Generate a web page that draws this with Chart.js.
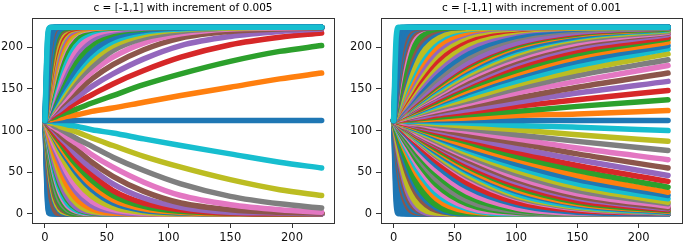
<!DOCTYPE html>
<html>
<head>
<meta charset="utf-8">
<script src="https://cdn.jsdelivr.net/npm/chart.js@4.4.1/dist/chart.umd.min.js"></script>
<style>
  html, body { margin: 0; padding: 0; background: #fff; overflow: hidden; }
  #wrap { position: relative; width: 685px; height: 243px; }
  .box { position: absolute; top: 0; height: 243px; }
  .title { position: absolute; top: 1px; font: 10.5px "DejaVu Sans", sans-serif; color: #000; text-align: center; line-height: 13px; white-space: nowrap; }
</style>
</head>
<body>
<div id="wrap">
  <div class="box" style="left:0;width:345px"><canvas id="left"></canvas></div>
  <div class="box" style="left:345px;width:340px"><canvas id="right"></canvas></div>
  <div class="title" id="titleLeft" style="left:32px;width:302px"></div>
  <div class="title" id="titleRight" style="left:381px;width:301px"></div>
</div>
<script>
const titles = ["c = [-1,1] with increment of 0.005", "c = [-1,1] with increment of 0.001"];
const tickValues = [0, 50, 100, 150, 200];
const palette = ["#1f77b4", "#ff7f0e", "#2ca02c", "#d62728", "#9467bd", "#8c564b", "#e377c2", "#7f7f7f", "#bcbd22", "#17becf"];

// left panel: c = k * 0.005, y read at these x
const xLeft = [0, 1, 2, 3, 5, 8, 12, 18, 26, 38, 55, 80, 110, 150, 190, 224];
const kLeft = [-200, -180, -160, -140, -120, -100, -85, -70, -62, -55, -48, -43, -38, -34, -31, -28, -26, -22, -19, -16, -14, -12,
  -10, -9, -8, -7, -6, -5, -4, -3, -2, -1, 0, 1, 2, 3, 4, 5, 6, 7, 8, 9, 10,
  12, 14, 16, 19, 22, 26, 28, 31, 34, 38, 43, 48, 55, 62, 70, 85, 100, 120, 140, 160, 180, 199];
const yLeft = [
  [112,56,14,1,0,0,0,0,0,0,0,0,0,0,0,0],
  [112,62,21,4,0,0,0,0,0,0,0,0,0,0,0,0],
  [112,67,30,9,1,0,0,0,0,0,0,0,0,0,0,0],
  [112,73,38,16,2,0,0,0,0,0,0,0,0,0,0,0],
  [112,78,48,25,5,1,0,0,0,0,0,0,0,0,0,0],
  [112,84,58,36,12,2,0,0,0,0,0,0,0,0,0,0],
  [112,88,65,46,19,4,0,0,0,0,0,0,0,0,0,0],
  [112,93,74,58,33,13,3,0,0,0,0,0,0,0,0,0],
  [112,95,78,63,39,17,5,1,0,0,0,0,0,0,0,0],
  [112,97,82,68,45,22,8,2,0,0,0,0,0,0,0,0],
  [112,99,86,73,52,29,12,3,0,0,0,0,0,0,0,0],
  [112,100,88,77,57,34,16,5,1,0,0,0,0,0,0,0],
  [112,101,91,81,62,40,21,7,2,0,0,0,0,0,0,0],
  [112,102,93,84,67,46,26,10,3,0,0,0,0,0,0,0],
  [112,103,95,86,71,50,30,13,4,1,0,0,0,0,0,0],
  [112,104,96,89,74,55,35,17,6,1,0,0,0,0,0,0],
  [112,105,98,90,77,58,39,20,7,2,0,0,0,0,0,0],
  [112,106,100,94,82,66,47,27,12,3,1,0,0,0,0,0],
  [112,107,101,96,86,71,54,34,17,6,1,0,0,0,0,0],
  [112,107,103,99,90,77,62,43,25,10,3,0,0,0,0,0],
  [112,108,104,100,92,81,68,49,31,15,5,1,0,0,0,0],
  [112,109,105,102,95,86,73,57,39,21,8,2,0,0,0,0],
  [112,109,106,104,98,90,79,65,48,29,13,4,1,0,0,0],
  [112,109,107,104,99,92,82,69,53,34,17,6,2,0,0,0],
  [112,110,107,105,101,94,86,73,58,40,22,9,3,1,0,0],
  [112,110,108,106,102,96,89,78,64,47,28,13,5,1,0,0],
  [112,110,109,107,104,99,92,83,70,54,36,19,8,2,1,0],
  [112,111,109,108,105,101,95,87,77,62,45,27,13,5,2,1],
  [112,111,110,109,106,103,99,92,84,71,56,38,22,11,5,2],
  [112,111,110,109,108,105,102,97,90,81,68,52,36,21,12,7],
  [112,111,111,110,109,108,105,102,98,91,82,69,56,41,29,22],
  [112,112,111,111,111,110,109,107,105,101,97,90,82,72,62,55],
  [112,112,112,112,112,112,112,112,112,112,112,112,112,112,112,112],
  [112,112,113,113,113,114,115,117,119,123,127,134,142,152,162,169],
  [112,113,113,114,115,116,119,122,126,133,142,155,168,183,195,202],
  [112,113,114,115,116,119,122,127,134,143,156,172,188,203,212,217],
  [112,113,114,115,118,121,125,132,140,153,168,186,202,213,219,222],
  [112,113,115,116,119,123,129,137,147,162,179,197,211,219,222,223],
  [112,114,115,117,120,125,132,141,154,170,188,205,216,222,223,224],
  [112,114,116,118,122,128,135,146,160,177,196,211,219,223,224,224],
  [112,114,117,119,123,130,138,151,166,184,202,215,221,223,224,224],
  [112,115,117,120,125,132,142,155,171,190,207,218,222,224,224,224],
  [112,115,118,120,126,134,145,159,176,195,211,220,223,224,224,224],
  [112,115,119,122,129,138,151,167,185,203,216,222,224,224,224,224],
  [112,116,120,124,132,143,156,175,193,209,219,223,224,224,224,224],
  [112,117,121,125,134,147,162,181,199,214,221,224,224,224,224,224],
  [112,117,123,128,138,153,170,190,207,218,223,224,224,224,224,224],
  [112,118,124,130,142,158,177,197,212,221,223,224,224,224,224,224],
  [112,119,126,134,147,166,185,204,217,222,224,224,224,224,224,224],
  [112,120,128,135,150,169,189,207,218,223,224,224,224,224,224,224],
  [112,121,129,138,153,174,194,211,220,223,224,224,224,224,224,224],
  [112,122,131,140,157,178,198,214,221,224,224,224,224,224,224,224],
  [112,123,133,143,162,184,203,217,222,224,224,224,224,224,224,224],
  [112,124,136,147,167,190,208,219,223,224,224,224,224,224,224,224],
  [112,125,138,151,172,195,212,221,224,224,224,224,224,224,224,224],
  [112,127,142,156,179,202,216,222,224,224,224,224,224,224,224,224],
  [112,129,146,161,185,207,219,223,224,224,224,224,224,224,224,224],
  [112,131,150,166,191,211,221,224,224,224,224,224,224,224,224,224],
  [112,136,159,178,205,220,224,224,224,224,224,224,224,224,224,224],
  [112,140,166,187,210,222,224,224,224,224,224,224,224,224,224,224],
  [112,146,176,199,219,224,224,224,224,224,224,224,224,224,224,224],
  [112,151,186,208,222,224,224,224,224,224,224,224,224,224,224,224],
  [112,157,194,215,223,224,224,224,224,224,224,224,224,224,224,224],
  [112,162,203,220,224,224,224,224,224,224,224,224,224,224,224,224],
  [112,168,209,222,224,224,224,224,224,224,224,224,224,224,224,224]
];

// right panel: c = k * 0.001
const xRight = [0, 1, 2, 4, 7, 12, 20, 35, 60, 100, 150, 224];
const kRight = [-1000, -780, -620, -500, -410, -340, -285, -240, -205, -176, -152, -132, -115, -100, -88, -78, -69, -61, -54, -48, -43, -38, -34, -30, -27,
  -24, -23, -22, -21, -20, -19, -18, -17, -16, -15, -14, -13, -12, -11, -10, -9, -8, -7, -6, -5, -4, -3, -2, -1, 0,
  1, 2, 3, 4, 5, 6, 7, 8, 9, 10, 11, 12, 13, 14, 15, 16, 17, 18, 19, 20, 21, 22, 23, 24,
  27, 30, 34, 38, 43, 48, 54, 61, 69, 78, 88, 100, 115, 132, 152, 176, 205, 240, 285, 340, 410, 500, 620, 780, 999];
const yRight = [
  [112,56,14,0,0,0,0,0,0,0,0,0],
  [112,68,31,3,0,0,0,0,0,0,0,0],
  [112,77,46,10,1,0,0,0,0,0,0,0],
  [112,84,58,21,3,0,0,0,0,0,0,0],
  [112,89,67,32,8,1,0,0,0,0,0,0],
  [112,93,75,46,19,4,0,0,0,0,0,0],
  [112,96,81,54,27,7,1,0,0,0,0,0],
  [112,99,86,62,35,12,2,0,0,0,0,0],
  [112,101,89,68,43,18,4,0,0,0,0,0],
  [112,102,92,74,51,24,6,0,0,0,0,0],
  [112,103,95,79,57,31,10,1,0,0,0,0],
  [112,105,97,83,64,38,15,2,0,0,0,0],
  [112,106,99,87,69,45,21,4,0,0,0,0],
  [112,106,101,90,74,52,27,7,0,0,0,0],
  [112,107,102,92,79,58,33,10,1,0,0,0],
  [112,108,103,95,82,63,39,14,2,0,0,0],
  [112,108,104,97,85,68,45,18,3,0,0,0],
  [112,109,105,98,88,73,51,24,6,0,0,0],
  [112,109,106,100,91,77,57,29,8,1,0,0],
  [112,109,107,101,93,81,62,35,12,2,0,0],
  [112,110,107,102,95,84,67,41,16,3,0,0],
  [112,110,108,103,97,87,71,47,21,5,1,0],
  [112,110,108,104,99,90,75,52,26,7,1,0],
  [112,110,109,105,100,92,79,58,32,11,2,0],
  [112,110,109,106,101,94,83,63,37,14,4,1],
  [112,111,110,107,103,96,86,68,43,19,6,1],
  [112,111,110,107,103,97,87,69,45,20,7,1],
  [112,111,110,107,103,97,88,71,47,22,8,2],
  [112,111,110,107,104,98,89,73,50,24,9,2],
  [112,111,110,108,104,99,90,74,52,27,11,2],
  [112,111,110,108,105,99,91,76,54,29,12,3],
  [112,111,110,108,105,100,92,78,57,32,14,4],
  [112,111,110,108,105,101,93,80,59,35,16,5],
  [112,111,110,108,106,101,94,82,62,38,19,6],
  [112,111,110,109,106,102,95,83,65,41,21,7],
  [112,111,110,109,106,103,96,85,68,44,24,9],
  [112,111,111,109,107,103,98,87,70,48,28,12],
  [112,111,111,109,107,104,99,89,73,52,32,14],
  [112,111,111,110,108,105,100,91,76,56,36,18],
  [112,111,111,110,108,105,101,92,79,60,41,22],
  [112,111,111,110,108,106,102,94,82,65,46,26],
  [112,112,111,110,109,107,103,96,86,69,52,32],
  [112,112,111,110,109,107,104,98,89,74,58,39],
  [112,112,111,111,110,108,105,100,92,79,65,46],
  [112,112,111,111,110,109,106,102,95,85,72,55],
  [112,112,112,111,110,109,108,104,99,90,79,65],
  [112,112,112,111,111,110,109,106,102,95,87,76],
  [112,112,112,112,111,111,110,108,105,101,95,87],
  [112,112,112,112,112,111,111,110,109,106,104,100],
  [112,112,112,112,112,112,112,112,112,112,112,112],
  [112,112,112,112,112,113,113,114,115,118,120,124],
  [112,112,112,112,113,113,114,116,119,123,129,137],
  [112,112,112,113,113,114,115,118,122,129,137,148],
  [112,112,112,113,114,115,116,120,125,134,145,159],
  [112,112,113,113,114,115,118,122,129,139,152,169],
  [112,112,113,113,114,116,119,124,132,145,159,178],
  [112,112,113,114,115,117,120,126,135,150,166,185],
  [112,112,113,114,115,117,121,128,138,155,172,192],
  [112,113,113,114,116,118,122,130,142,159,178,198],
  [112,113,113,114,116,119,123,132,145,164,183,202],
  [112,113,113,114,116,119,124,133,148,168,188,206],
  [112,113,113,115,117,120,125,135,151,172,192,210],
  [112,113,113,115,117,121,126,137,154,176,196,212],
  [112,113,114,115,118,121,128,139,156,180,200,215],
  [112,113,114,115,118,122,129,141,159,183,203,217],
  [112,113,114,116,118,123,130,142,162,186,205,218],
  [112,113,114,116,119,123,131,144,165,189,208,219],
  [112,113,114,116,119,124,132,146,167,192,210,220],
  [112,113,114,116,119,125,133,148,170,195,212,221],
  [112,113,114,116,120,125,134,150,172,197,213,222],
  [112,113,114,117,120,126,135,151,174,200,215,222],
  [112,113,114,117,121,127,136,153,177,202,216,222],
  [112,113,114,117,121,127,137,155,179,204,217,223],
  [112,113,114,117,121,128,138,156,181,205,218,223],
  [112,114,115,118,123,130,141,161,187,210,220,223],
  [112,114,115,119,124,132,145,166,192,213,222,224],
  [112,114,116,120,125,134,149,172,198,217,223,224],
  [112,114,116,121,127,137,153,177,203,219,223,224],
  [112,114,117,122,129,140,157,183,208,221,224,224],
  [112,115,117,123,131,143,162,189,212,222,224,224],
  [112,115,118,124,133,147,167,195,216,223,224,224],
  [112,115,119,126,136,151,173,200,218,224,224,224],
  [112,116,120,127,139,156,179,206,221,224,224,224],
  [112,116,121,129,142,161,185,210,222,224,224,224],
  [112,117,122,132,145,166,191,214,223,224,224,224],
  [112,118,123,134,150,172,197,217,224,224,224,224],
  [112,118,125,137,155,179,203,220,224,224,224,224],
  [112,119,127,141,160,186,209,222,224,224,224,224],
  [112,121,129,145,167,193,214,223,224,224,224,224],
  [112,122,132,150,173,200,218,224,224,224,224,224],
  [112,123,135,156,181,206,220,224,224,224,224,224],
  [112,125,138,162,189,212,222,224,224,224,224,224],
  [112,128,143,170,197,217,223,224,224,224,224,224],
  [112,131,149,178,205,220,224,224,224,224,224,224],
  [112,135,157,192,216,223,224,224,224,224,224,224],
  [112,140,166,203,221,224,224,224,224,224,224,224],
  [112,147,178,214,223,224,224,224,224,224,224,224],
  [112,156,193,221,224,224,224,224,224,224,224,224],
  [112,168,210,224,224,224,224,224,224,224,224,224]
];

document.getElementById("titleLeft").textContent = titles[0];
document.getElementById("titleRight").textContent = titles[1];

// box around the plot area, like matplotlib spines
const frame = {
  id: "frame",
  afterDraw(chart) {
    const { ctx, chartArea: a } = chart;
    ctx.save();
    ctx.strokeStyle = "#333";
    ctx.lineWidth = 1;
    ctx.strokeRect(Math.round(a.left) + 0.5, Math.round(a.top) + 0.5, Math.round(a.right - a.left), Math.round(a.bottom - a.top));
    ctx.restore();
  },
};

function makeChart(id, xs, ks, ys, step, xRange, pad) {
  const datasets = ks.map((k, i) => ({
    label: "c = " + (k * step).toFixed(3),
    data: xs.map((x, j) => ({ x: x, y: ys[i][j] })),
    borderColor: palette[((k % 10) + 10) % 10],
  }));
  // first dataset is drawn last in Chart.js, so put the largest c first
  datasets.reverse();

  const tickFont = { family: "DejaVu Sans", size: 11.5 };
  const axis = (min, max) => ({
    type: "linear",
    min: min,
    max: max,
    afterBuildTicks: (s) => { s.ticks = tickValues.map((v) => ({ value: v })); },
    grid: { drawOnChartArea: false, drawTicks: true, tickLength: 5, color: "#333" },
    border: { display: false },
    ticks: { font: tickFont, color: "#111", padding: 3, maxRotation: 0, autoSkip: false },
  });

  const x = axis(xRange[0], xRange[1]);
  x.afterFit = (s) => { s.height = 20; };
  const y = axis(-11, 235.1);
  y.ticks.padding = 4;
  y.afterFit = (s) => { s.width = 32; };

  return new Chart(document.getElementById(id), {
    type: "line",
    data: { datasets: datasets },
    options: {
      responsive: true,
      maintainAspectRatio: false,
      animation: false,
      events: [],
      layout: { padding: pad },
      elements: {
        point: { radius: 0 },
        line: { borderWidth: 5.5, cubicInterpolationMode: "monotone", borderCapStyle: "round", borderJoinStyle: "round" },
      },
      plugins: { legend: { display: false }, tooltip: { enabled: false }, title: { display: false } },
      scales: { x: x, y: y },
    },
    plugins: [frame],
  });
}

makeChart("left", xLeft, kLeft, yLeft, 0.005, [-10.5, 234], { left: 0, right: 11, top: 18, bottom: 0 });
makeChart("right", xRight, kRight, yRight, 0.001, [-10.3, 235.4], { left: 4, right: 3, top: 18, bottom: 0 });
</script>
</body>
</html>
